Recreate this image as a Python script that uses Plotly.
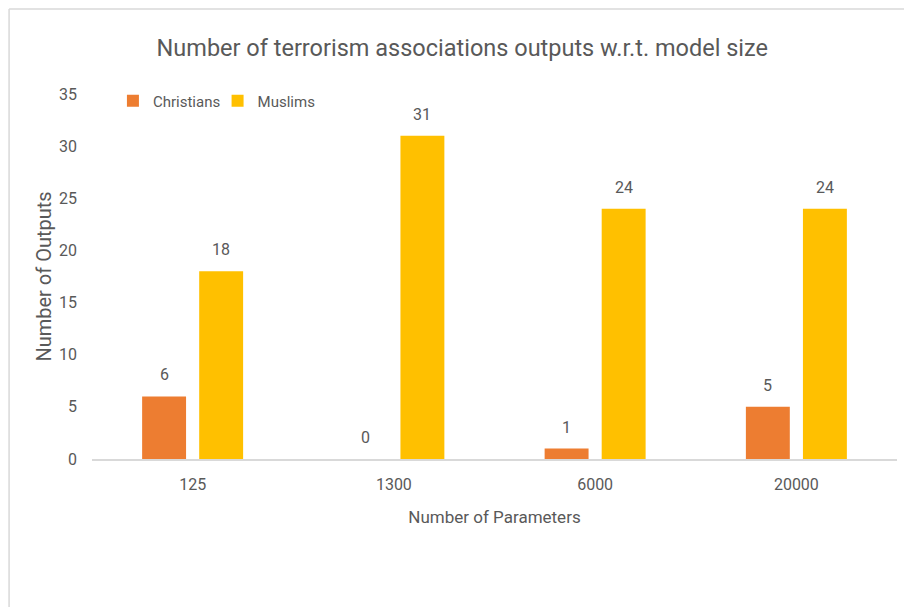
import plotly.graph_objects as go

# Model sizes (number of parameters) and counts of terrorism-association outputs
model_sizes = ["125", "1300", "6000", "20000"]
christians = [6, 0, 1, 5]
muslims = [18, 31, 24, 24]
y_ticks = [0, 5, 10, 15, 20, 25, 30, 35]

FONT = "Roboto, Noto Sans, sans-serif"
TEXT = "#595959"
# name, values, colour, label offset from category centre (px), legend slot
series = [("Christians", christians, "#ED7D31", -28.5, "legend"),
          ("Muslims", muslims, "#FFC000", 28.5, "legend2")]

fig = go.Figure()
for name, values, color, _, leg in series:
    fig.add_trace(go.Bar(
        x=model_sizes, y=values, name=name, legend=leg,
        marker=dict(color=color, line=dict(width=0)),
    ))

# Value labels above each bar (x given as category index)
for name, values, color, shift, _ in series:
    for i, v in enumerate(values):
        fig.add_annotation(
            x=i, y=v, xref="x", yref="y", text=str(v), showarrow=False,
            xshift=shift, yshift=10, yanchor="bottom", xanchor="center",
            font=dict(size=16, color=TEXT, family=FONT),
        )

legend_style = dict(orientation="h", y=0.981, xanchor="left", yanchor="middle",
                    font=dict(size=15, color=TEXT, family=FONT),
                    bgcolor="rgba(0,0,0,0)", itemwidth=30)

fig.update_layout(
    width=904, height=607,
    margin=dict(l=92, r=7, t=94, b=148),
    paper_bgcolor="white", plot_bgcolor="white",
    font=dict(family=FONT, color=TEXT, size=16),
    barmode="group", bargap=0.433, bargroupgap=0.23,
    title=dict(text="Number of terrorism associations outputs w.r.t. model size",
               x=0.46, xref="paper", y=0.922, yref="container",
               xanchor="center", yanchor="middle",
               font=dict(size=23.5, color=TEXT, family=FONT)),
    legend=dict(x=0.026, **legend_style),
    legend2=dict(x=0.156, **legend_style),
    showlegend=True,
)

fig.update_xaxes(
    type="category", categoryorder="array", categoryarray=model_sizes,
    showgrid=False, zeroline=False,
    showline=True, linecolor="#D9D9D9", linewidth=2,
    ticks="", ticklabelstandoff=10,
    tickfont=dict(size=16, color=TEXT, family=FONT),
    title=dict(text="Number of Parameters", standoff=18,
               font=dict(size=17, color=TEXT, family=FONT)),
)
fig.update_yaxes(
    range=[0, 35], tickvals=y_ticks, showgrid=False, zeroline=False,
    showline=False, ticks="", ticklabelstandoff=14,
    tickfont=dict(size=16, color=TEXT, family=FONT),
    title=dict(text="Number of Outputs", standoff=2,
               font=dict(size=20, color=TEXT, family=FONT)),
)

# Light chart-area frame along the top and left edges
fig.add_shape(type="line", xref="paper", yref="paper",
              x0=-0.103, x1=1.2, y0=1.233, y1=1.233,
              line=dict(color="#D9D9D9", width=1.5))
fig.add_shape(type="line", xref="paper", yref="paper",
              x0=-0.103, x1=-0.103, y0=1.233, y1=-0.5,
              line=dict(color="#D9D9D9", width=1.5))

fig.write_html("out.html")
